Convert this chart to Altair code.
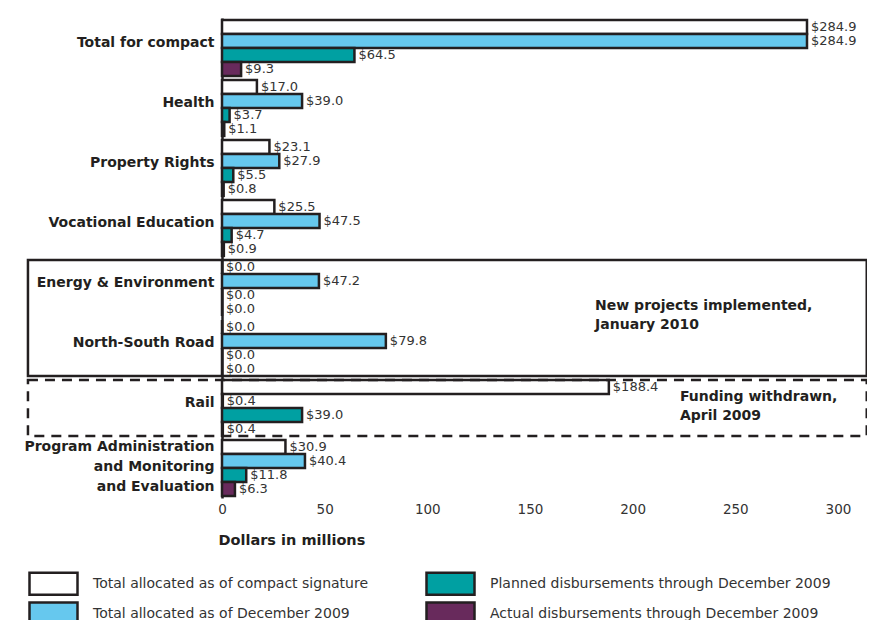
import altair as alt
import pandas as pd

categories = [
    "Total for compact",
    "Health",
    "Property Rights",
    "Vocational Education",
    "Energy & Environment",
    "North-South Road",
    "Rail",
    "Program Administration|and Monitoring|and Evaluation",
]
series = [
    "Total allocated as of compact signature",
    "Total allocated as of December 2009",
    "Planned disbursements through December 2009",
    "Actual disbursements through December 2009",
]
compact_signature = [284.9, 17.0, 23.1, 25.5, 0.0, 0.0, 188.4, 30.9]
december_2009 = [284.9, 39.0, 27.9, 47.5, 47.2, 79.8, 0.4, 40.4]
planned_disb = [64.5, 3.7, 5.5, 4.7, 0.0, 0.0, 39.0, 11.8]
actual_disb = [9.3, 1.1, 0.8, 0.9, 0.0, 0.0, 0.4, 6.3]
series_colors = ["#ffffff", "#66c8ee", "#00a0a2", "#682a5c"]
x_ticks = [0, 50, 100, 150, 200, 250, 300]

# annotation boxes / notes
box_solid = {"first": ["Energy & Environment"], "last": ["North-South Road"], "x0": [-94.5], "x1": [314.0]}
box_dashed = {"first": ["Rail"], "last": ["Rail"], "x0": [-94.5], "x1": [314.0]}
note_new = {"cat": ["North-South Road"], "x": [181.7], "txt": ["New projects implemented,\nJanuary 2010"]}
note_rail = {"cat": ["Rail"], "x": [223.0], "txt": ["Funding withdrawn,\nApril 2009"]}

rows = []
for vals, s in zip([compact_signature, december_2009, planned_disb, actual_disb], series):
    for c, v in zip(categories, vals):
        rows.append({"category": c, "series": s, "value": v, "label": "$%.1f" % v})
df = pd.DataFrame(rows)

INK = "#231f20"
FONT = "DejaVu Sans"

y_scale = alt.Scale(domain=categories, paddingInner=0.07, paddingOuter=0.035)

y_enc = alt.Y(
    "category:N",
    sort=None,
    scale=y_scale,
    axis=alt.Axis(
        title=None,
        labelExpr="split(datum.label, '|')",
        ticks=False,
        domainColor=INK,
        domainWidth=2.5,
        labelFontWeight="bold",
        labelFontSize=14,
        labelColor=INK,
        labelPadding=8,
        labelOffset={"condition": {"test": "indexof(datum.value, '|') >= 0", "value": -21}, "value": -5},
        labelLineHeight=20,
        labelLimit=300,
        labelFont=FONT,
    ),
)
x_enc = alt.X(
    "value:Q",
    scale=alt.Scale(domain=[0, 300], nice=False),
    axis=alt.Axis(
        values=x_ticks,
        domain=False,
        ticks=False,
        grid=False,
        labelFlush=False,
        title="Dollars in millions",
        titleAnchor="start",
        titleAlign="left",
        titleFontWeight="bold",
        titleFontSize=14.5,
        titleColor=INK,
        titleFont=FONT,
        titleX=-4,
        titlePadding=18,
        labelPadding=4,
        labelFontSize=13.5,
        labelColor="#333333",
        labelFont=FONT,
    ),
)
yoff = alt.YOffset("series:N", sort=series, scale=alt.Scale(domain=series, paddingInner=0, paddingOuter=0))

bars = alt.Chart(df).mark_bar(stroke=INK, strokeWidth=2.5).encode(
    x=x_enc,
    y=y_enc,
    yOffset=yoff,
    fill=alt.Fill(
        "series:N",
        scale=alt.Scale(domain=series, range=series_colors),
        legend=alt.Legend(
            title=None,
            orient="none",
            legendX=-182,
            legendY=552,
            columns=2,
            columnPadding=52,
            rowPadding=-5,
            symbolType="M-2,-0.917H2V0.917H-2Z",
            symbolSize=576,
            symbolStrokeColor=INK,
            symbolStrokeWidth=2.5,
            symbolOpacity=1,
            labelFontSize=14,
            labelColor="#333333",
            labelFont=FONT,
            labelLimit=500,
            labelOffset=26,
        ),
    ),
)

labels = alt.Chart(df).mark_text(
    align="left", baseline="middle", dx=4, fontSize=13, color="#333333", font=FONT
).encode(x="value:Q", y=alt.Y("category:N", sort=None, scale=y_scale), yOffset=yoff, text="label:N")

solid = alt.Chart(pd.DataFrame(box_solid)).mark_rect(
    fill="transparent", stroke=INK, strokeWidth=2.5, clip=False
).encode(
    x="x0:Q",
    x2="x1:Q",
    y=alt.Y("first:N", sort=None, scale=y_scale, bandPosition=0),
    y2=alt.Y2("last:N", bandPosition=1),
)
dashed = alt.Chart(pd.DataFrame(box_dashed)).mark_rect(
    fill="transparent", stroke=INK, strokeWidth=2.5, strokeDash=[10, 7], clip=False
).encode(
    x="x0:Q",
    x2="x1:Q",
    y=alt.Y("first:N", sort=None, scale=y_scale, bandPosition=0),
    y2=alt.Y2("last:N", bandPosition=1),
)

t_new = alt.Chart(pd.DataFrame(note_new)).mark_text(
    align="left", baseline="middle", fontWeight="bold", fontSize=14, lineHeight=19,
    lineBreak="\n", color=INK, font=FONT, dy=-14
).encode(x="x:Q", y=alt.Y("cat:N", sort=None, scale=y_scale, bandPosition=0), text="txt:N")
t_rail = alt.Chart(pd.DataFrame(note_rail)).mark_text(
    align="left", baseline="middle", fontWeight="bold", fontSize=14, lineHeight=19,
    lineBreak="\n", color=INK, font=FONT, dy=-11
).encode(x="x:Q", y=alt.Y("cat:N", sort=None, scale=y_scale, bandPosition=0.5), text="txt:N")

chart = (
    alt.layer(bars, labels, solid, dashed, t_new, t_rail)
    .properties(
        width=616,
        height=480,
        autosize=alt.AutoSizeParams(type="none"),
        padding={"left": 214, "top": 10, "right": 29, "bottom": 122},
        background="white",
    )
    .configure_view(stroke=None)
)

chart.save("out.html", embed_options={"renderer": "svg", "actions": False})
